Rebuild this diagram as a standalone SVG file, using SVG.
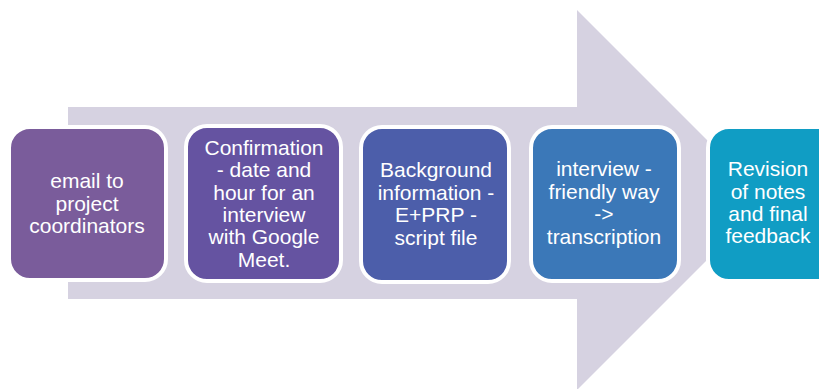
<svg xmlns="http://www.w3.org/2000/svg" width="819" height="389" viewBox="0 0 819 389">
  <style>
    .step { stroke: #ffffff; stroke-width: 4; }
    .label { font-family: "Liberation Sans", Arial, sans-serif; font-size: 21px; fill: #ffffff; text-anchor: middle; }
  </style>
  <rect width="819" height="389" fill="#ffffff"/>
  <!-- background process arrow -->
  <g id="process-arrow">
    <path d="M68 107 H577 V10 L767 200 L577 390 V299 H68 Z" fill="#d6d2e1"/>
  </g>
  <g id="step1">
    <rect class="step" x="9" y="127" width="157" height="153" rx="21" fill="#7a5c9b"/>
    <text class="label"><tspan x="87" y="188">email to</tspan><tspan x="87" y="210.5">project</tspan><tspan x="87" y="233">coordinators</tspan></text>
  </g>
  <g id="step2">
    <rect class="step" x="186" y="126" width="155" height="155" rx="21" fill="#6553a1"/>
    <text class="label"><tspan x="264" y="155">Confirmation</tspan><tspan x="264" y="177.3">- date and</tspan><tspan x="264" y="199.6">hour for an</tspan><tspan x="264" y="221.9">interview</tspan><tspan x="264" y="244.2">with Google</tspan><tspan x="264" y="266.5">Meet.</tspan></text>
  </g>
  <g id="step3">
    <rect class="step" x="361" y="127" width="148" height="155" rx="21" fill="#4c5eaa"/>
    <text class="label"><tspan x="436" y="177">Background</tspan><tspan x="436" y="199.5">information -</tspan><tspan x="436" y="222">E+PRP -</tspan><tspan x="436" y="244.5">script file</tspan></text>
  </g>
  <g id="step4">
    <rect class="step" x="531" y="127" width="148" height="154" rx="21" fill="#3b78b8"/>
    <text class="label"><tspan x="604" y="176">interview -</tspan><tspan x="604" y="199">friendly way</tspan><tspan x="604" y="221">-&gt;</tspan><tspan x="604" y="244">transcription</tspan></text>
  </g>
  <g id="step5">
    <rect class="step" x="708" y="127" width="150" height="154" rx="21" fill="#109dc4"/>
    <text class="label"><tspan x="768" y="176">Revision</tspan><tspan x="768" y="199">of notes</tspan><tspan x="768" y="221">and final</tspan><tspan x="768" y="243">feedback</tspan></text>
  </g>
</svg>
